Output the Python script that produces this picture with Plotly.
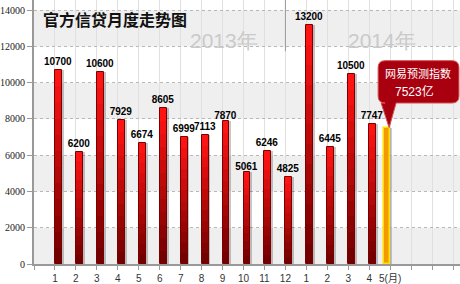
import plotly.graph_objects as go

# ---------------- data ----------------
month_labels = ["1", "2", "3", "4", "5", "6", "7", "8", "9", "10", "11", "12",
                "1", "2", "3", "4", "5(月)"]
actual_values = [10700, 6200, 10600, 7929, 6674, 8605, 6999, 7113, 7870, 5061, 6246, 4825,
                 13200, 6445, 10500, 7747]
forecast_value = 7523
forecast_label = "网易预测指数"
forecast_unit = "亿"
y_ticks = [0, 2000, 4000, 6000, 8000, 10000, 12000, 14000]
title_text = "官方信贷月度走势图"
year_labels = ["2013年", "2014年"]

# ---------------- geometry ----------------
ML, MB = 33, 16
W, H = 460, 284
PW, PH = W - ML, H - MB
X_RANGE = PW / 21.0
Y_RANGE = 14565

def px2x(px):
    return (px - ML) / 21.0

def py2y(py):
    return (PH - py) / PH * Y_RANGE

def x2px(x):
    return ML + x * 21.0

def y2py(y):
    return PH - y / Y_RANGE * PH

pos_actual = list(range(1, len(actual_values) + 1))
pos_forecast = len(month_labels)
BW = 0.33

fig = go.Figure()

# shadow
fig.add_trace(go.Bar(x=pos_actual, y=actual_values, offset=0.09, width=BW,
                     marker=dict(color="rgba(0,0,0,0.22)", line=dict(width=0)),
                     hoverinfo="skip", showlegend=False))

# gradient layers (top bright red -> bottom dark red)
K = 12
top_c = (255, 20, 20)
bot_c = (115, 0, 0)
for k in range(K, 0, -1):
    t = (K - k) / (K - 1)
    c = tuple(int(top_c[i] + (bot_c[i] - top_c[i]) * t) for i in range(3))
    fig.add_trace(go.Bar(x=pos_actual, y=[v * k / K for v in actual_values],
                         offset=0, width=BW,
                         marker=dict(color="rgb(%d,%d,%d)" % c, line=dict(width=0)),
                         hoverinfo="skip", showlegend=False))

# outline + labels
fig.add_trace(go.Bar(x=pos_actual, y=actual_values, offset=0, width=BW,
                     marker=dict(color="rgba(0,0,0,0)", line=dict(color="#7a0000", width=1)),
                     text=["<b>%d</b>" % v for v in actual_values],
                     textposition="outside", constraintext="none",
                     textfont=dict(family="Liberation Sans, Arial", size=10, color="#000"),
                     cliponaxis=False, showlegend=False))

# forecast bar
fig.add_trace(go.Bar(x=[pos_forecast + 0.09 - 0.3], y=[forecast_value], offset=0, width=0.3,
                     marker=dict(color="rgba(0,0,0,0.2)", line=dict(width=0)),
                     hoverinfo="skip", showlegend=False))
fig.add_trace(go.Bar(x=[pos_forecast - 0.3], y=[forecast_value], offset=0, width=0.3,
                     marker=dict(color="#f29a00", line=dict(color="#ffe000", width=1.5)),
                     showlegend=False))

# ---------------- shapes ----------------
shapes = []
for y0 in [0, 4000, 8000, 12000]:
    shapes.append(dict(type="rect", xref="paper", x0=0, x1=1, yref="y", y0=y0, y1=y0 + 2000,
                       fillcolor="#efefef", line=dict(width=0), layer="below"))
# year separator
shapes.append(dict(type="line", xref="x", x0=12, x1=12, yref="paper", y0=1,
                   y1=py2y(52) / Y_RANGE, line=dict(color="#999", width=1)))

# callout
tip_px = x2px(pos_forecast - 0.05)
tip_py = y2py(forecast_value)
bx0, bx1 = tip_px - 11, tip_px + 70
by0, by1 = tip_py - 68, tip_py - 25
r = 7
def P(cmd, *xy):
    s = cmd
    for i in range(0, len(xy), 2):
        s += " %.4f,%.2f" % (px2x(xy[i]), py2y(xy[i + 1]))
    return s
path = " ".join([
    P("M", bx0 + r, by0),
    P("L", bx1 - r, by0),
    P("Q", bx1, by0, bx1, by0 + r),
    P("L", bx1, by1 - r),
    P("Q", bx1, by1, bx1 - r, by1),
    P("L", tip_px + 7, by1),
    P("L", tip_px, tip_py),
    P("L", tip_px - 8, by1),
    P("L", bx0 + r, by1),
    P("Q", bx0, by1, bx0, by1 - r),
    P("L", bx0, by0 + r),
    P("Q", bx0, by0, bx0 + r, by0),
    "Z"])
shapes.append(dict(type="path", xref="x", yref="y", path=path,
                   fillcolor="#a8000e", line=dict(color="#d85050", width=1), layer="above"))

# ---------------- annotations ----------------
annos = [
    dict(text="<b>" + title_text + "</b>", xref="paper", yref="paper",
         x=px2x(40) / X_RANGE, y=1 - 19 / PH, xanchor="left", yanchor="middle",
         showarrow=False, font=dict(family="Noto Sans CJK SC", size=16, color="#111")),
    dict(text=year_labels[0], xref="x", yref="y", x=px2x(223), y=py2y(41),
         showarrow=False, font=dict(family="Liberation Sans, Arial", size=21, color="#cacaca")),
    dict(text=year_labels[1], xref="x", yref="y", x=px2x(382), y=py2y(41),
         showarrow=False, font=dict(family="Liberation Sans, Arial", size=21, color="#cacaca")),
    dict(text=forecast_label, xref="x", yref="y", x=px2x(tip_px + 29), y=py2y(tip_py - 55),
         showarrow=False, font=dict(family="Noto Sans CJK SC", size=11, color="#fff")),
    dict(text="%d%s" % (forecast_value, forecast_unit), xref="x", yref="y",
         x=px2x(tip_px + 25), y=py2y(tip_py - 37),
         showarrow=False, font=dict(family="Liberation Sans, Noto Sans CJK SC", size=12, color="#fff")),
]

tickvals_x = list(range(0, 21))
ticktext_x = [""] + month_labels + [""] * (20 - len(month_labels))

fig.update_layout(
    width=W, height=H,
    margin=dict(l=ML, r=0, t=0, b=MB, pad=0),
    paper_bgcolor="white", plot_bgcolor="white",
    barmode="overlay", bargap=0,
    shapes=shapes, annotations=annos,
    showlegend=False,
    xaxis=dict(range=[0, X_RANGE], tickvals=tickvals_x, ticktext=ticktext_x,
               ticks="outside", ticklen=4, tickcolor="#999", tickwidth=1,
               showgrid=True, gridcolor="#e0e0e0", gridwidth=1,
               showline=True, linecolor="#999", linewidth=2, zeroline=False,
               tickfont=dict(family="Liberation Sans, Noto Sans CJK SC", size=10, color="#333")),
    yaxis=dict(range=[0, Y_RANGE], tickvals=y_ticks, ticktext=[str(v) for v in y_ticks],
               ticks="outside", ticklen=5, tickcolor="#999", tickwidth=1,
               showgrid=True, gridcolor="#b8b8b8", griddash="dot", gridwidth=1,
               showline=True, linecolor="#999", linewidth=2, zeroline=False,
               tickfont=dict(family="Liberation Serif", size=10, color="#222")),
)

fig.write_html("out.html")
